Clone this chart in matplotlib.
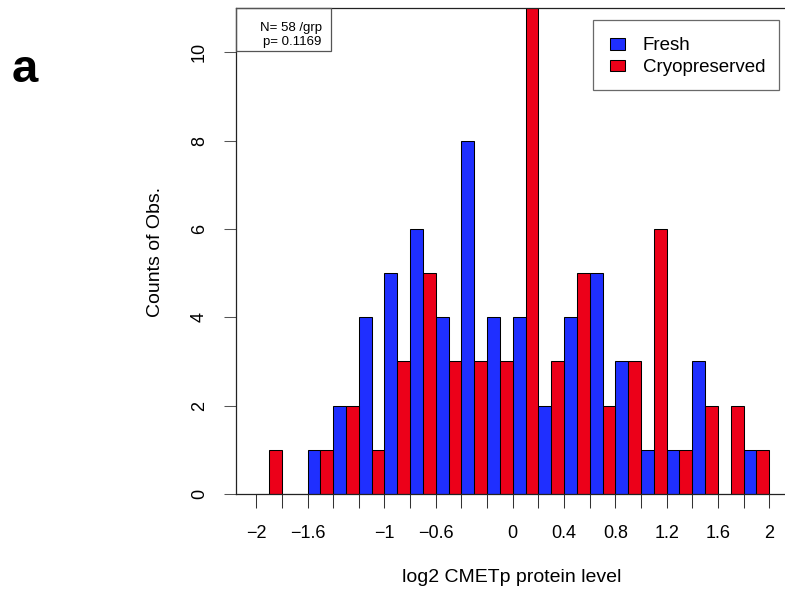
import matplotlib
matplotlib.use("Agg")
import matplotlib.pyplot as plt
from matplotlib.patches import Rectangle, Patch
from matplotlib.legend_handler import HandlerPatch
import numpy as np

plt.rcParams['font.family'] = ['Liberation Sans', 'DejaVu Sans']

# histogram bins (left edges) and counts per group
bin_left = [-2.0, -1.8, -1.6, -1.4, -1.2, -1.0, -0.8, -0.6, -0.4, -0.2,
            0.0, 0.2, 0.4, 0.6, 0.8, 1.0, 1.2, 1.4, 1.6, 1.8]
fresh = [0, 0, 1, 2, 4, 5, 6, 4, 8, 4, 4, 2, 4, 5, 3, 1, 1, 3, 0, 1]
cryo = [1, 0, 1, 2, 1, 3, 5, 3, 3, 3, 11, 3, 5, 2, 3, 6, 1, 2, 2, 1]
xticks = [-2.0, -1.8, -1.6, -1.4, -1.2, -1.0, -0.8, -0.6, -0.4, -0.2, 0.0,
          0.2, 0.4, 0.6, 0.8, 1.0, 1.2, 1.4, 1.6, 1.8, 2.0]
xtick_labels = ['\u22122', '', '\u22121.6', '', '', '\u22121', '', '\u22120.6', '', '', '0',
                '', '0.4', '', '0.8', '', '1.2', '', '1.6', '', '2']
yticks = [0, 2, 4, 6, 8, 10]
group_names = ['Fresh', 'Cryopreserved']
group_colors = ['#1f2fff', '#ec0019']
stats_text = 'N= 58 /grp\np= 0.1169'

W, H = 785, 593
fig = plt.figure(figsize=(W / 100, H / 100), dpi=100)

def fx(px):
    return px / W

def fy(py):
    return 1 - py / H

ax = fig.add_axes([fx(235.7), fy(494), fx(789.8) - fx(235.7), fy(8) - fy(494)])

left = np.array(bin_left)
ax.bar(left, fresh, width=0.1, align='edge', color=group_colors[0],
       edgecolor='black', linewidth=0.75)
ax.bar(left + 0.1, cryo, width=0.1, align='edge', color=group_colors[1],
       edgecolor='black', linewidth=0.75)

ax.set_xlim(-2.16, 2.16)
ax.set_ylim(0, 11)
ax.set_xticks(xticks)
ax.set_xticklabels(xtick_labels, fontsize=13)
ax.set_yticks(yticks)
ax.set_yticklabels([str(v) for v in yticks], fontsize=13, rotation=90, va='center')
ax.tick_params(axis='x', length=10, width=0.75, pad=12, colors='#333333', labelcolor='black')
ax.tick_params(axis='y', length=9, width=0.75, pad=11, colors='#555555', labelcolor='black')
for s in ['left', 'top', 'bottom']:
    ax.spines[s].set_linewidth(0.9)
    ax.spines[s].set_color('#222222')
ax.spines['right'].set_visible(False)

fig.text(fx(512), fy(577), 'log2 CMETp protein level', fontsize=14,
         ha='center', va='center')
fig.text(fx(155), fy(252), 'Counts of Obs.', fontsize=14, rotation=90,
         ha='center', va='center')
fig.text(fx(25), fy(70), 'a', fontsize=34, fontweight='bold',
         ha='center', va='center')

# stats box in the top-left corner
fig.patches.append(Rectangle((fx(235.7), fy(51)), fx(331) - fx(235.7), fy(8) - fy(51),
                             transform=fig.transFigure, fill=False,
                             edgecolor='#555555', linewidth=0.9))
fig.text(fx(321.5), fy(35), stats_text, fontsize=9.5, ha='right', va='center',
         linespacing=1.3)

# small square key drawn at the right end of a wider handle box (R style)
def square_key(legend, orig_handle, xdescent, ydescent, width, height, fontsize):
    sw, sh = 10.3, 8.4  # points
    return Rectangle((-xdescent + width - sw, -ydescent + (height - sh) / 2), sw, sh)

handles = [Patch(facecolor=c, edgecolor='black', linewidth=0.75) for c in group_colors]
leg = fig.legend(handles, group_names, loc='upper right',
                 bbox_to_anchor=(fx(778.5), fy(20)), fontsize=13.5, frameon=True,
                 fancybox=False, edgecolor='#444444', handlelength=0.96,
                 handleheight=1.4, handletextpad=0.98, labelspacing=0.0,
                 borderpad=0.7, borderaxespad=0,
                 handler_map={Patch: HandlerPatch(patch_func=square_key)})
leg.get_frame().set_linewidth(0.9)

fig.savefig('out.png', dpi=100)
